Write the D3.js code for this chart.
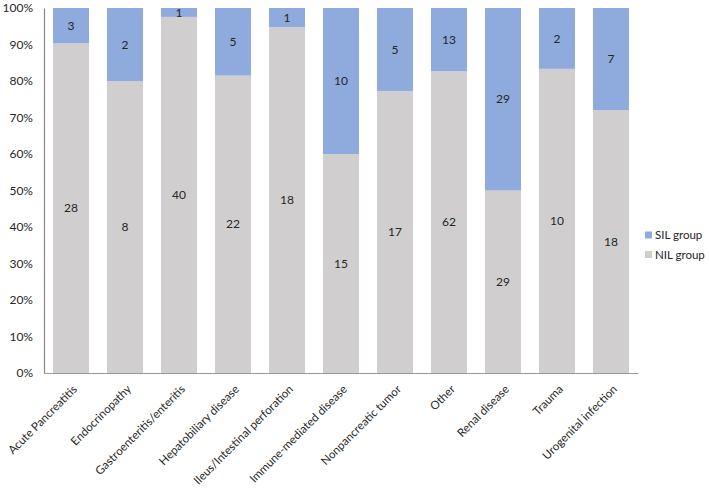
<!DOCTYPE html>
<html>
<head>
<meta charset="utf-8">
<script src="https://cdn.jsdelivr.net/npm/d3@7"></script>
<style>
  body { margin: 0; background: #fff; }
  text { font-family: Lato, "Open Sans", sans-serif; fill: #262626; }
</style>
</head>
<body>
<script>
// Data
const categories = ["Acute Pancreatitis", "Endocrinopathy", "Gastroenteritis/enteritis",
  "Hepatobiliary disease", "Ileus/Intestinal perforation", "Immune-mediated disease",
  "Nonpancreatic tumor", "Other", "Renal disease", "Trauma", "Urogenital infection"];
const nilGroup = [28, 8, 40, 22, 18, 15, 17, 62, 29, 10, 18];
const silGroup = [3, 2, 1, 5, 1, 10, 5, 13, 29, 2, 7];
const seriesNames = ["NIL group", "SIL group"];
const yTicks = [0, 0.1, 0.2, 0.3, 0.4, 0.5, 0.6, 0.7, 0.8, 0.9, 1];

const WIDTH = 709, HEIGHT = 489;
const PLOT_LEFT = 44, PLOT_RIGHT = 638, PLOT_TOP = 8, PLOT_BOTTOM = 373;
const COLORS = { "NIL group": "#d0cece", "SIL group": "#8faadc" };

var svg = d3.select("body").append("svg")
  .attr("width", WIDTH)
  .attr("height", HEIGHT);

var rows = categories.map(function(c, i) {
  return { cat: c, "NIL group": nilGroup[i], "SIL group": silGroup[i] };
});

var stacked = d3.stack().keys(seriesNames).offset(d3.stackOffsetExpand)(rows);

var x = d3.scaleBand().domain(categories)
  .range([PLOT_LEFT, PLOT_RIGHT]).paddingInner(0.333).paddingOuter(0.167);
var y = d3.scaleLinear().domain([0, 1]).range([PLOT_BOTTOM, PLOT_TOP]);

// Bars
var layers = svg.selectAll("g.layer").data(stacked).enter().append("g")
  .attr("class", "layer")
  .attr("fill", function(d) { return COLORS[d.key]; });

layers.selectAll("rect").data(function(d) { return d; }).enter().append("rect")
  .attr("x", function(d) { return x(d.data.cat); })
  .attr("y", function(d) { return y(d[1]); })
  .attr("width", x.bandwidth())
  .attr("height", function(d) { return y(d[0]) - y(d[1]); });

// Value labels in the middle of each segment
stacked.forEach(function(layer) {
  svg.append("g").selectAll("text").data(layer).enter().append("text")
    .attr("x", function(d) { return x(d.data.cat) + x.bandwidth() / 2; })
    .attr("y", function(d) { return (y(d[0]) + y(d[1])) / 2; })
    .attr("dy", "0.35em")
    .attr("text-anchor", "middle")
    .style("font-size", "12px")
    .text(function(d) { return d.data[layer.key]; });
});

// Y axis
var yAxis = svg.append("g")
  .attr("transform", "translate(" + PLOT_LEFT + ",0)")
  .call(d3.axisLeft(y).tickValues(yTicks).tickFormat(d3.format(".0%")).tickSize(0).tickPadding(11));
yAxis.select(".domain").attr("stroke", "#888").attr("stroke-width", 1.2);
yAxis.selectAll("text").style("font-size", "12px").attr("fill", "#262626");

// X axis
var xAxis = svg.append("g")
  .attr("transform", "translate(0," + PLOT_BOTTOM + ")")
  .call(d3.axisBottom(x).tickSize(0).tickPadding(0));
xAxis.select(".domain").attr("stroke", "#999").attr("stroke-width", 1.2);
xAxis.selectAll("text")
  .style("font-size", "11.5px")
  .attr("fill", "#262626")
  .attr("text-anchor", "end")
  .attr("dy", "0.35em")
  .attr("transform", "translate(4,14) rotate(-45)");

// Legend
var legend = svg.append("g").attr("transform", "translate(645,235)");
["SIL group", "NIL group"].forEach(function(name, i) {
  var g = legend.append("g").attr("transform", "translate(0," + (i * 19.5) + ")");
  g.append("rect").attr("x", 0).attr("y", -3.5).attr("width", 7).attr("height", 7)
    .attr("fill", COLORS[name]);
  g.append("text").attr("x", 10).attr("dy", "0.35em")
    .style("font-size", "11.5px").text(name);
});
</script>
</body>
</html>
